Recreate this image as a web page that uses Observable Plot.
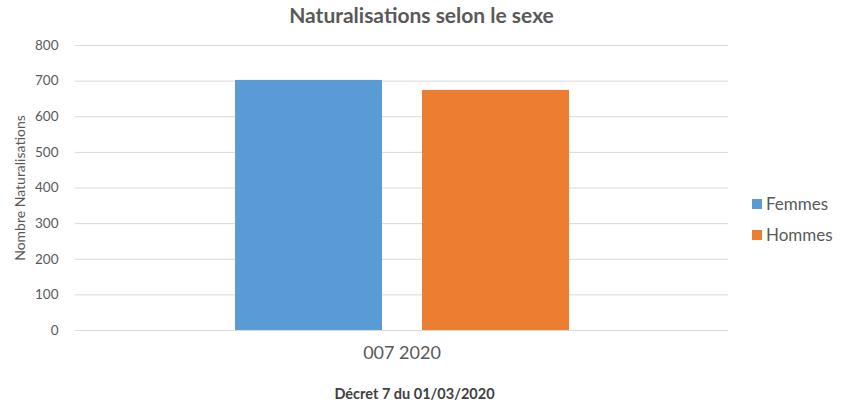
<!DOCTYPE html>
<html>
<head>
<meta charset="utf-8">
<script src="https://cdn.jsdelivr.net/npm/d3@7"></script>
<script src="https://cdn.jsdelivr.net/npm/@observablehq/plot@0.6"></script>
<style>
  body { margin: 0; background: #fff; font-family: Lato, "Open Sans", sans-serif; }
  #wrap { position: relative; width: 843px; height: 410px; overflow: hidden; }
  #title { height: 30px; line-height: 30px; text-align: center; font-weight: bold; font-size: 21px; color: #595959; }
  #caption { height: 35px; line-height: 37px; text-align: center; font-weight: bold; font-size: 14.5px; color: #404040; padding-right: 14px; }
  #legend { position: absolute; left: 752px; top: 188px; font-size: 17px; color: #595959; }
  .item { display: flex; align-items: center; height: 31px; }
  .sw { width: 10px; height: 10px; margin-right: 4px; }
</style>
</head>
<body>
<div id="wrap">
  <div id="title">Naturalisations selon le sexe</div>
  <div id="chart"></div>
  <div id="caption">Décret 7 du 01/03/2020</div>
  <div id="legend"></div>
</div>
<script>
const periods = ["007 2020"];
const sexes = ["Femmes", "Hommes"];
const values = [702, 674];
const colors = ["#5B9BD5", "#ED7D31"];
const yTicks = [0, 100, 200, 300, 400, 500, 600, 700, 800];
const yLabel = "Nombre Naturalisations";

const data = sexes.map((s, i) => ({ period: periods[0], sexe: s, value: values[i] }));

const chart = Plot.plot({
  width: 843,
  height: 345,
  marginLeft: 75,
  marginRight: 115,
  marginTop: 15,
  marginBottom: 45,
  style: { fontFamily: "Lato, 'Open Sans', sans-serif", color: "#595959", background: "transparent" },
  fx: { domain: periods, padding: 0, label: null },
  x: { domain: sexes, paddingInner: 0.214, paddingOuter: 0.85, axis: null },
  y: { domain: [0, 800], label: null },
  color: { domain: sexes, range: colors },
  marks: [
    Plot.gridY(yTicks, { stroke: "#d9d9d9", strokeOpacity: 1 }),
    Plot.axisY(yTicks, { tickSize: 0, tickPadding: 17, fontSize: 13.5, label: null }),
    Plot.barY(data, { fx: "period", x: "sexe", y: "value", fill: "sexe" }),
    Plot.axisFx({ anchor: "bottom", tickSize: 0, tickPadding: 16, fontSize: 18, label: null }),
    Plot.text([yLabel], { text: d => d, frameAnchor: "left", textAnchor: "middle", rotate: -90, dx: -55, fontSize: 14, fill: "#595959" })
  ]
});
document.getElementById("chart").appendChild(chart);

const legend = document.getElementById("legend");
sexes.forEach((s, i) => {
  const item = document.createElement("div");
  item.className = "item";
  item.innerHTML = `<span class="sw" style="background:${colors[i]}"></span><span>${s}</span>`;
  legend.appendChild(item);
});
</script>
</body>
</html>
